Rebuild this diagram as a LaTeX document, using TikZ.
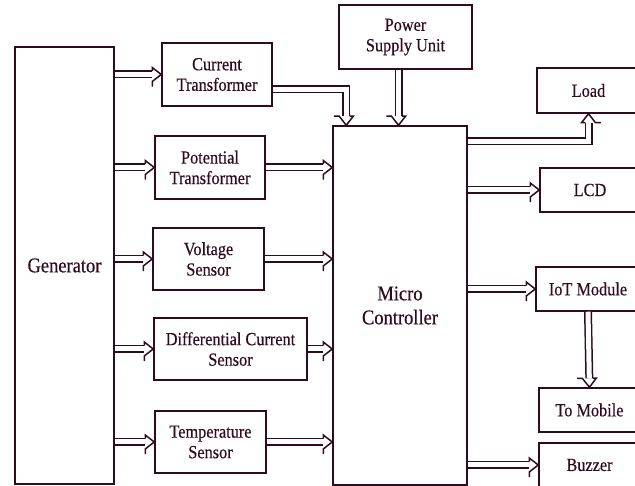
\documentclass[tikz,border=0pt]{standalone}
\usepackage{fontspec}
\setmainfont{Liberation Serif}[FakeStretch=0.88, FakeBold=0.4]
\usetikzlibrary{arrows.meta, decorations.markings, calc}
\definecolor{bdInk}{HTML}{2E0B1E}
\tikzset{
  blk/.style    = {draw=bdInk, line width=1.5pt, text=bdInk, align=center,
                   inner sep=2pt, font=\fontsize{18.5}{20.5}\selectfont},
  bigblk/.style = {blk, font=\fontsize{21}{24}\selectfont},
  bushead/.style = {decoration={markings, mark=at position 1 with {
                     \draw[bdInk, line width=1.5pt, line join=miter]
                       (-9pt,3.25pt) -- (-9pt,7pt) -- (0,0) -- (-9pt,-7pt) -- (-9pt,-3.25pt);}},
                    postaction={decorate}},
  bus/.style    = {draw=bdInk, double, double distance=5pt, line width=1.5pt,
                   shorten >=9pt, bushead},
}

\begin{document}
\begin{tikzpicture}[x=1pt, y=1pt]
  \useasboundingbox (0,0) rectangle (635,486);
  % source side
  \node[bigblk, minimum width=99pt,  minimum height=437pt] (gen) at (64.5,220.5) {Generator};
  \node[blk, minimum width=110pt, minimum height=63pt] (ct)  at (217,411.5) {Current\\Transformer};
  \node[blk, minimum width=110pt, minimum height=63pt] (pt)  at (210,318.5) {Potential\\Transformer};
  \node[blk, minimum width=111pt, minimum height=62pt] (vs)  at (208.5,227) {Voltage\\Sensor};
  \node[blk, minimum width=153pt, minimum height=62pt] (dcs) at (230.5,137) {Differential Current\\Sensor};
  \node[blk, minimum width=111pt, minimum height=62pt] (ts)  at (210.5,44)  {Temperature\\Sensor};
  % controller and supply
  \node[blk, minimum width=133pt, minimum height=64pt]  (psu) at (405.5,449) {Power\\Supply Unit};
  \node[bigblk, minimum width=134pt, minimum height=359pt] (mc) at (400,180.5) {Micro\\Controller};
  % outputs (cut by the right edge)
  \node[blk, minimum width=103pt, minimum height=45pt] (load) at (588.5,395.5) {Load};
  \node[blk, minimum width=100pt, minimum height=44pt] (lcd)  at (590,296)    {LCD};
  \node[blk, minimum width=104pt, minimum height=44pt] (iot)  at (588,197)    {IoT Module};
  \node[blk, minimum width=101pt, minimum height=44pt] (mob)  at (589.5,76)   {To Mobile};
  \node[blk, minimum width=101pt, minimum height=44pt] (buz)  at (589.5,21)   {Buzzer};
  % generator feeds every sensor
  \foreach \n in {ct,pt,vs,dcs,ts}
    \draw[bus] (gen.east |- \n.west) -- (\n.west);
  % sensors into the controller
  \draw[bus] ([yshift=-15pt]ct.east) -| ([xshift=14pt]mc.north west);
  \foreach \n in {pt,vs,dcs,ts}
    \draw[bus] (\n.east) -- (\n.east -| mc.west);
  \draw[bus] ([xshift=-7pt]psu.south) -- ([xshift=-7pt]psu.south |- mc.north);
  % controller outputs
  \draw[bus] ([yshift=-16pt]mc.north east) -| (load.south);
  \foreach \n in {lcd,iot,buz}
    \draw[bus] (mc.east |- \n.west) -- (\n.west);
  \draw[bus] (iot.south) -- (mob.north);
\end{tikzpicture}
\end{document}
